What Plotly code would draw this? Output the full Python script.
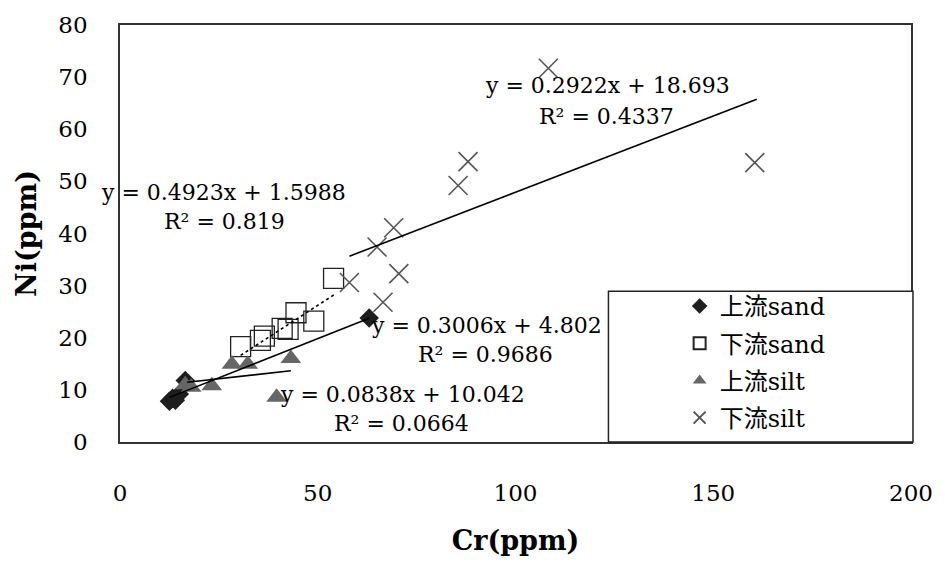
import plotly.graph_objects as go

# ---- data ----
up_sand_x = [12.5, 13.3, 14.0, 15.0, 16.5, 63.0]
up_sand_y = [7.8, 8.4, 8.0, 9.2, 11.8, 23.8]

down_sand_x = [30.5, 35.5, 36.5, 41.0, 42.5, 44.5, 49.0, 54.0]
down_sand_y = [18.3, 19.5, 20.3, 21.8, 21.6, 24.8, 23.2, 31.4]

up_silt_x = [16.5, 18.0, 23.2, 28.3, 32.3, 39.6, 43.2]
up_silt_y = [11.0, 10.5, 10.8, 14.9, 14.9, 8.6, 16.0]

down_silt_x = [58.0, 65.0, 66.5, 69.2, 70.5, 85.5, 88.0, 108.3, 160.5]
down_silt_y = [30.6, 37.4, 26.8, 41.1, 32.3, 49.2, 53.8, 71.7, 53.6]

names = ["上流sand", "下流sand", "上流silt", "下流silt"]
slopes = [0.3006, 0.4923, 0.0838, 0.2922]
intercepts = [4.802, 1.5988, 10.042, 18.693]
fit_x_ranges = [[12.5, 63.0], [30.5, 54.5], [17.0, 43.2], [58.0, 161.0]]
eq_labels = ["y = 0.3006x + 4.802", "y = 0.4923x + 1.5988",
             "y = 0.0838x + 10.042", "y = 0.2922x + 18.693"]
r2_labels = ["R² = 0.9686", "R² = 0.819", "R² = 0.0664", "R² = 0.4337"]
eq_pos = [(92.75, 22.3), (26.25, 47.9), (71.5, 9.1), (123.25, 68.3)]
r2_pos = [(92.5, 16.8), (26.5, 42.3), (71.25, 3.6), (123.0, 62.5)]

x_ticks = [0, 50, 100, 150, 200]
y_ticks = [0, 10, 20, 30, 40, 50, 60, 70, 80]

FONT = "DejaVu Serif, Liberation Serif, Noto Sans CJK JP, serif"

fig = go.Figure()

marker_styles = [
    dict(symbol="diamond", size=15, color="#1e1e1e"),
    dict(symbol="square-open", size=20, color="#222222", line=dict(width=1.3)),
    dict(symbol="triangle-up", size=18, color="#666666"),
    dict(symbol="x-thin-open", size=19, color="#555555", line=dict(width=1.6)),
]
xs = [up_sand_x, down_sand_x, up_silt_x, down_silt_x]
ys = [up_sand_y, down_sand_y, up_silt_y, down_silt_y]

for i in range(4):
    fig.add_trace(go.Scatter(x=xs[i], y=ys[i], mode="markers", name=names[i],
                             marker=marker_styles[i], legendgroup=f"g{i}",
                             cliponaxis=False))

dashes = ["solid", "dot", "solid", "solid"]
for i in range(4):
    x0, x1 = fit_x_ranges[i]
    fx = [x0, x1]
    fy = [slopes[i] * v + intercepts[i] for v in fx]
    fig.add_trace(go.Scatter(x=fx, y=fy, mode="lines", showlegend=False,
                             line=dict(color="black", width=1.6, dash=dashes[i])))

for i in range(4):
    fig.add_annotation(x=eq_pos[i][0], y=eq_pos[i][1], xref="x", yref="y",
                       text=eq_labels[i], showarrow=False,
                       font=dict(family=FONT, size=22, color="black"))
    fig.add_annotation(x=r2_pos[i][0], y=r2_pos[i][1], xref="x", yref="y",
                       text=r2_labels[i], showarrow=False,
                       font=dict(family=FONT, size=22, color="black"))

# legend frame (white box)
fig.add_shape(type="rect", xref="paper", yref="paper",
              x0=0.6175, x1=1.0025, y0=0.0, y1=0.3615,
              line=dict(color="#222222", width=1.5), fillcolor="white",
              layer="above")

fig.update_layout(
    width=945, height=563,
    margin=dict(l=120, r=25, t=18, b=119),
    plot_bgcolor="white", paper_bgcolor="white",
    font=dict(family=FONT, size=23, color="black"),
    showlegend=True,
    legend=dict(x=0.7075, xanchor="left", y=0.005, yanchor="bottom",
                borderwidth=0, bgcolor="rgba(0,0,0,0)",
                font=dict(family=FONT, size=24, color="black"),
                tracegroupgap=3, traceorder="grouped", itemsizing="constant"),
    xaxis=dict(range=[0, 200], tickvals=x_ticks, showgrid=False, zeroline=False,
               showline=True, mirror=True, linecolor="#333333", linewidth=1.5,
               ticks="", ticklabelstandoff=30,
               title=dict(text="<b>Cr(ppm)</b>", standoff=26,
                          font=dict(family=FONT, size=27))),
    yaxis=dict(range=[0, 80], tickvals=y_ticks, showgrid=False, zeroline=False,
               showline=True, mirror=True, linecolor="#333333", linewidth=1.5,
               ticks="", ticklabelstandoff=26,
               title=dict(text="<b>Ni(ppm)</b>", standoff=14,
                          font=dict(family=FONT, size=27))),
)

fig.write_html("out.html")
